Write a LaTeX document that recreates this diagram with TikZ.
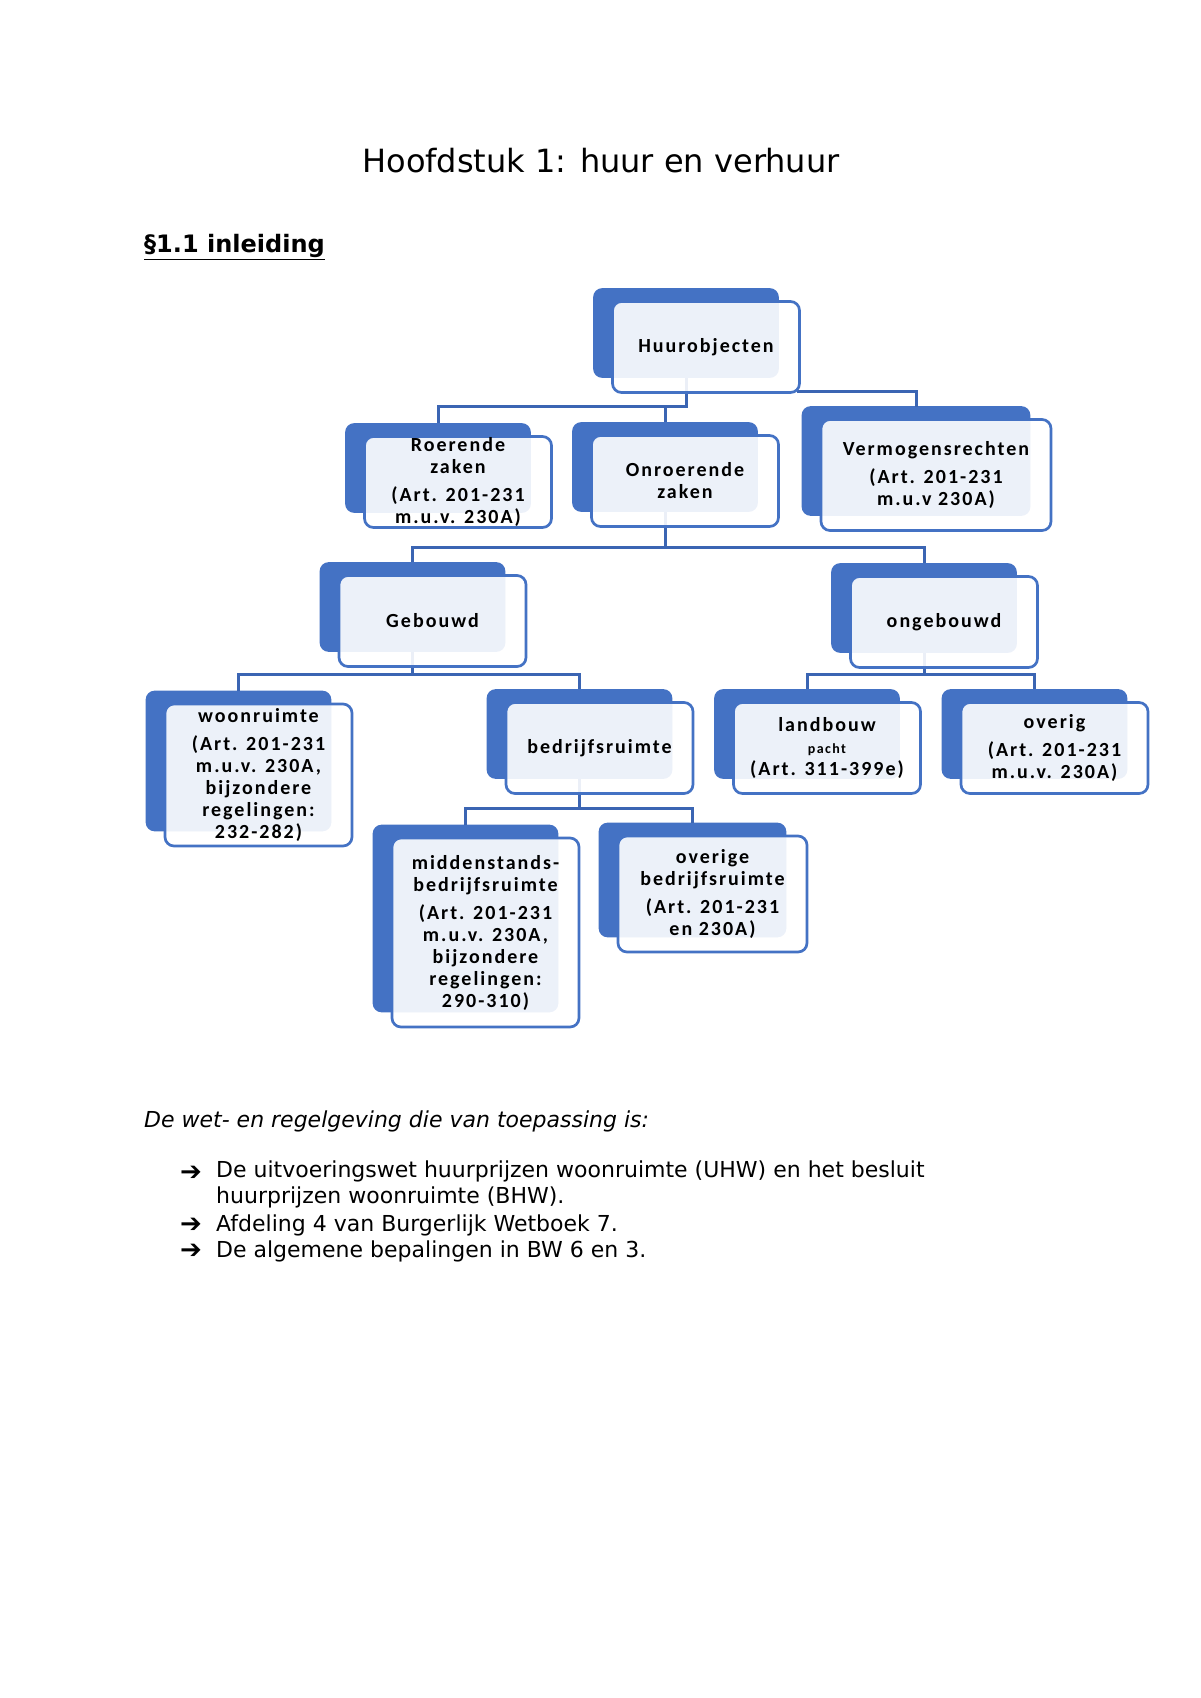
\documentclass[tikz,border=0pt]{standalone}
\usepackage{fontspec}
\setmainfont{DejaVu Sans}
\newfontfamily\vakfont[LetterSpace=10]{Carlito}
\usetikzlibrary{backgrounds}

\definecolor{huurblauw}{HTML}{4472C4}
\definecolor{takblauw}{HTML}{3B65B3}

\begin{document}
\begin{tikzpicture}
  [
    x = 1pt, y = 1pt,
    vak/.style = {draw=huurblauw,line width=2.7pt,rounded corners=9pt,fill=white,fill opacity=0.9,text opacity=1,
                  minimum width=187pt,minimum height=91pt,inner sep=0pt,align=center,
                  font=\vakfont\bfseries\fontsize{20}{22}\selectfont},
    achter/.style = {fill=huurblauw,rounded corners=9pt},
    tak/.style = {draw=takblauw,line width=3pt},
    tekst/.style = {inner sep=0pt,font=\fontsize{22}{25.5}\selectfont},
    pijl/.style = {inner sep=0pt,font=\fontsize{26}{26}\selectfont},
  ]
  \useasboundingbox (0,0) rectangle (1200,-1698);

  % koppen
  \node (kop) at (601,-161) {\fontsize{32}{38}\selectfont Hoofdstuk 1: huur en verhuur};
  \node[tekst,anchor=west] (par) at (144,-247) {\fontsize{24}{28}\selectfont\bfseries\underline{§1.1 inleiding}};

  % schema
  \node[vak]                                    (huur)      at (706,-347)   {Huurobjecten};
  \node[vak]                                    (roerend)   at (458,-482)   {Roerende\\zaken\\[6pt](Art. 201-231\\m.u.v. 230A)};
  \node[vak]                                    (onroerend) at (685,-481)   {Onroerende\\zaken};
  \node[vak,minimum width=230pt,minimum height=111pt] (vermogen) at (936,-475) {Vermogensrechten\\[6pt](Art. 201-231\\m.u.v 230A)};
  \node[vak]                                    (gebouwd)   at (432.5,-621) {Gebouwd};
  \node[vak]                                    (ongebouwd) at (944,-622)   {ongebouwd};
  \node[vak,minimum height=142pt]               (woon)      at (258.5,-775) {woonruimte\\[6pt](Art. 201-231\\m.u.v. 230A,\\bijzondere\\regelingen:\\232-282)};
  \node[vak]                                    (bedrijf)   at (599.5,-748) {bedrijfsruimte};
  \node[vak]                                    (landbouw)  at (827,-748)   {landbouw\\{\fontsize{14}{18}\selectfont pacht}\\(Art. 311-399e)};
  \node[vak]                                    (overig)    at (1054.5,-748) {overig\\[6pt](Art. 201-231\\m.u.v. 230A)};
  \node[vak,minimum height=189pt]               (midden)    at (485.5,-932.5) {middenstands-\\bedrijfsruimte\\[6pt](Art. 201-231\\m.u.v. 230A,\\bijzondere\\regelingen:\\290-310)};
  \node[vak,minimum width=189pt,minimum height=116pt] (overbedr) at (712.5,-894) {overige\\bedrijfsruimte\\[6pt](Art. 201-231\\en 230A)};

  \begin{scope}[on background layer]
    \foreach \n in {huur,roerend,onroerend,vermogen,gebouwd,ongebouwd,woon,bedrijf,landbouw,overig,midden,overbedr}
      \fill[achter] ([shift={(-18,12)}]\n.north west) rectangle ([shift={(-22,16)}]\n.south east);

    \draw[tak] ([shift={(-20,16)}]huur.south) -- ([shift={(-20,-13)}]huur.south) -| ([shift={(-20,12)}]roerend.north);
    \draw[tak] ([shift={(-20,-13)}]huur.south) -| ([shift={(-20,12)}]onroerend.north);
    \draw[tak] ([shift={(-4,2)}]huur.south east) -| ([shift={(-20,11)}]vermogen.north);

    \draw[tak] ([shift={(-20,16)}]onroerend.south) -- ([shift={(-20,-20)}]onroerend.south) -| ([shift={(-20,12)}]gebouwd.north);
    \draw[tak] ([shift={(-20,-20)}]onroerend.south) -| ([shift={(-20,12)}]ongebouwd.north);

    \draw[tak] ([shift={(-20,16)}]gebouwd.south) -- ([shift={(-20,-7)}]gebouwd.south) -| ([shift={(-20,12)}]woon.north);
    \draw[tak] ([shift={(-20,-7)}]gebouwd.south) -| ([shift={(-20,12)}]bedrijf.north);

    \draw[tak] ([shift={(-20,16)}]ongebouwd.south) -- ([shift={(-20,-6)}]ongebouwd.south) -| ([shift={(-20,12)}]landbouw.north);
    \draw[tak] ([shift={(-20,-6)}]ongebouwd.south) -| ([shift={(-20,12)}]overig.north);

    \draw[tak] ([shift={(-20,16)}]bedrijf.south) -- ([shift={(-20,-14)}]bedrijf.south) -| ([shift={(-20,12)}]midden.north);
    \draw[tak] ([shift={(-20,-14)}]bedrijf.south) -| ([shift={(-20,12)}]overbedr.north);
  \end{scope}

  % regelgeving
  \node[tekst,anchor=west] (wet) at (144,-1121) {\itshape De wet- en regelgeving die van toepassing is:};
  \node[pijl,anchor=west] (pijl1) at (180,-1173) {➔};
  \node[pijl,anchor=west] (pijl2) at (180,-1225) {➔};
  \node[pijl,anchor=west] (pijl3) at (180,-1251) {➔};
  \node[tekst,anchor=north west,align=left] (punt1) at (216,-1161) {De uitvoeringswet huurprijzen woonruimte (UHW) en het besluit\\huurprijzen woonruimte (BHW).};
  \node[tekst,anchor=west] (punt2) at (216,-1225) {Afdeling 4 van Burgerlijk Wetboek 7.};
  \node[tekst,anchor=west] (punt3) at (216,-1251) {De algemene bepalingen in BW 6 en 3.};
\end{tikzpicture}
\end{document}
